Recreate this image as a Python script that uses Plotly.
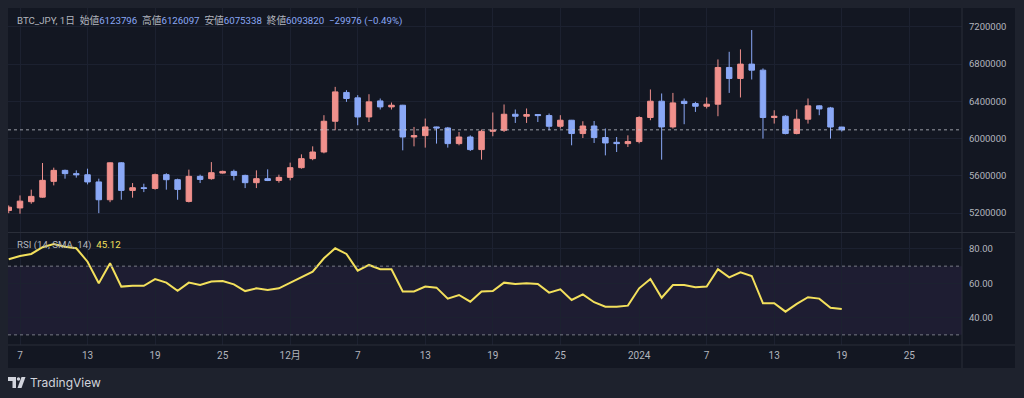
import plotly.graph_objects as go
import pandas as pd

# ---------------- data ----------------
start_date = "2023-11-06"
open_ = [5229000, 5256000, 5323000, 5372000, 5541000, 5659000, 5624000, 5612000, 5535000, 5344000,
         5740000, 5444000, 5473000, 5465000, 5613000, 5559000, 5326000, 5595000, 5570000, 5630000,
         5648000, 5605000, 5527000, 5570000, 5550000, 5584000, 5688000, 5785000, 5856000, 6186000,
         6495000, 6437000, 6232000, 6404000, 6340000, 6358000, 6017000, 6032000, 6125000, 6114000,
         5946000, 6017000, 5882000, 6078000, 6089000, 6261000, 6240000, 6258000, 6247000, 6132000,
         6197000, 6054000, 6135000, 6011000, 5960000, 5946000, 5968000, 6226000, 6401000, 6125000,
         6400000, 6376000, 6347000, 6369000, 6763000, 6645000, 6799000, 6734000, 6226000, 6240000,
         6054000, 6208000, 6351000, 6329000, 6123796]
high = [5283000, 5390000, 5452000, 5738000, 5688000, 5667000, 5659000, 5677000, 5570000, 5745000,
        5748000, 5523000, 5516000, 5624000, 5628000, 5570000, 5667000, 5613000, 5748000, 5656000,
        5667000, 5613000, 5659000, 5670000, 5613000, 5742000, 5831000, 5917000, 6251000, 6555000,
        6519000, 6466000, 6476000, 6430000, 6387000, 6362000, 6125000, 6215000, 6128000, 6125000,
        6071000, 6035000, 6097000, 6280000, 6366000, 6312000, 6323000, 6261000, 6269000, 6251000,
        6200000, 6186000, 6189000, 6108000, 6017000, 6035000, 6240000, 6527000, 6484000, 6490000,
        6430000, 6394000, 6441000, 6849000, 6931000, 6957000, 7165000, 6753000, 6304000, 6251000,
        6312000, 6430000, 6358000, 6340000, 6126097]
low = [5200000, 5194000, 5301000, 5366000, 5498000, 5570000, 5581000, 5509000, 5200000, 5318000,
       5344000, 5366000, 5426000, 5452000, 5452000, 5344000, 5315000, 5523000, 5559000, 5624000,
       5552000, 5469000, 5469000, 5544000, 5527000, 5552000, 5677000, 5768000, 5842000, 6089000,
       6394000, 6143000, 6178000, 6312000, 6312000, 5874000, 5917000, 5903000, 5946000, 5903000,
       5928000, 5867000, 5774000, 6025000, 6071000, 6168000, 6168000, 6178000, 6089000, 6108000,
       5928000, 6006000, 5953000, 5820000, 5856000, 5910000, 5949000, 6197000, 5774000, 6108000,
       6154000, 6286000, 6323000, 6240000, 6490000, 6441000, 6634000, 6000000, 6161000, 6046000,
       6046000, 6161000, 6251000, 6000000, 6075338]
close = [5264000, 5329000, 5380000, 5552000, 5659000, 5624000, 5612000, 5535000, 5344000, 5740000,
         5444000, 5473000, 5465000, 5613000, 5559000, 5455000, 5595000, 5562000, 5634000, 5648000,
         5605000, 5527000, 5570000, 5550000, 5584000, 5688000, 5785000, 5856000, 6186000, 6501000,
         6430000, 6232000, 6394000, 6340000, 6358000, 6017000, 6032000, 6125000, 6114000, 5946000,
         6017000, 5882000, 6078000, 6089000, 6261000, 6240000, 6258000, 6247000, 6132000, 6197000,
         6054000, 6135000, 6011000, 5953000, 5946000, 5968000, 6226000, 6401000, 6125000, 6383000,
         6376000, 6347000, 6369000, 6763000, 6645000, 6799000, 6734000, 6226000, 6240000, 6054000,
         6208000, 6351000, 6318000, 6124000, 6093820]
rsi = [74.0, 75.9, 77.1, 81.0, 82.9, 81.3, 80.4, 72.6, 60.0, 71.7,
       58.1, 58.6, 58.6, 62.5, 60.4, 55.7, 60.4, 59.0, 61.0, 61.4,
       59.4, 55.5, 57.1, 56.1, 57.1, 60.4, 63.9, 66.8, 74.6, 80.4,
       77.1, 67.4, 70.7, 68.2, 68.2, 55.3, 55.3, 58.1, 57.5, 51.1,
       53.2, 49.3, 55.3, 55.5, 60.4, 59.6, 60.0, 59.6, 54.6, 56.5,
       50.3, 53.6, 49.0, 46.4, 46.4, 47.0, 57.1, 62.5, 51.6, 59.0,
       59.0, 57.7, 58.1, 68.2, 63.5, 66.4, 64.3, 48.4, 48.4, 43.5,
       48.0, 51.9, 51.1, 45.8, 45.12]

x_tick_dates = ["2023-11-07", "2023-11-13", "2023-11-19", "2023-11-25", "2023-12-01",
                "2023-12-07", "2023-12-13", "2023-12-19", "2023-12-25", "2024-01-01",
                "2024-01-07", "2024-01-13", "2024-01-19", "2024-01-25"]
x_tick_text = ["7", "13", "19", "25", "12月", "7", "13", "19", "25", "2024", "7", "13", "19", "25"]
price_ticks = [5200000, 5600000, 6000000, 6400000, 6800000, 7200000]
rsi_ticks = [40, 60, 80]
rsi_upper, rsi_lower = 70, 30
last_price = 6093820

dates = pd.date_range(start_date, periods=len(close), freq="D")

# ---------------- style ----------------
W, H = 1024, 398
L, R, T, B = 8, 62, 8, 53
PW, PH = W - L - R, H - T - B
def px(x):
    return (x - L) / PW
def py(y):
    return (H - B - y) / PH

UP = "#f0908c"
DN = "#8aa8f6"
TXT = "#b2b5be"
GRID = "#1c2130"
SEP = "#2a2e39"
FONT = "Roboto, 'Noto Sans CJK JP', sans-serif"

fig = go.Figure()
fig.add_trace(go.Candlestick(
    x=dates, open=open_, high=high, low=low, close=close,
    increasing=dict(line=dict(color=UP, width=1), fillcolor=UP),
    decreasing=dict(line=dict(color=DN, width=1), fillcolor=DN),
    whiskerwidth=0, xaxis="x", yaxis="y", showlegend=False, hoverinfo="skip"))
fig.add_trace(go.Scatter(
    x=dates, y=rsi, mode="lines", line=dict(color="#f3e05c", width=2),
    xaxis="x", yaxis="y2", showlegend=False, hoverinfo="skip"))

shapes = [
    dict(type="rect", xref="paper", yref="paper", x0=px(8), x1=px(1015), y0=py(368), y1=py(8),
         fillcolor="#131722", line=dict(width=0), layer="below"),
    dict(type="rect", xref="paper", yref="y2", x0=0, x1=1, y0=rsi_lower, y1=rsi_upper,
         fillcolor="rgba(126,87,194,0.10)", line=dict(width=0), layer="below"),
    dict(type="line", xref="paper", yref="y2", x0=0, x1=1, y0=rsi_upper, y1=rsi_upper,
         line=dict(color="#787b86", width=1, dash="3px,3px")),
    dict(type="line", xref="paper", yref="y2", x0=0, x1=1, y0=rsi_lower, y1=rsi_lower,
         line=dict(color="#787b86", width=1, dash="3px,3px")),
    dict(type="line", xref="paper", yref="y", x0=0, x1=1, y0=last_price, y1=last_price,
         line=dict(color="rgba(200,202,210,0.75)", width=1, dash="dot")),
    dict(type="line", xref="paper", yref="paper", x0=px(962), x1=px(962), y0=py(368), y1=py(8),
         line=dict(color=SEP, width=1)),
    dict(type="line", xref="paper", yref="paper", x0=px(8), x1=px(1015), y0=py(232.5), y1=py(232.5),
         line=dict(color=SEP, width=1)),
    dict(type="line", xref="paper", yref="paper", x0=px(8), x1=px(1015), y0=py(345), y1=py(345),
         line=dict(color=SEP, width=1)),
]

# TradingView logo (decoration)
def path(pts):
    return "M " + " L ".join(f"{px(a)},{py(b)}" for a, b in pts) + " Z"
logo_col = "#d1d4dc"
shapes.append(dict(type="path", xref="paper", yref="paper",
                   path=path([(8, 377), (16, 377), (16, 388), (12.5, 388), (12.5, 381), (8, 381)]),
                   fillcolor=logo_col, line=dict(width=0)))
shapes.append(dict(type="circle", xref="paper", yref="paper",
                   x0=px(16.8), x1=px(20.2), y0=py(380.7), y1=py(377.3),
                   fillcolor=logo_col, line=dict(width=0)))
shapes.append(dict(type="path", xref="paper", yref="paper",
                   path=path([(21.5, 377), (25.5, 377), (21.5, 388), (17.5, 388)]),
                   fillcolor=logo_col, line=dict(width=0)))

nb = "\u00a0"
def val(s):
    return f'<span style="color:{DN}">{s}</span>'
header = ("BTC_JPY, 1日" + nb * 2 + "始値" + val("6123796") + nb * 2 + "高値" + val("6126097") + nb * 2 +
          "安値" + val("6075338") + nb * 2 + "終値" + val("6093820") + nb * 2 + val("−29976 (−0.49%)"))
rsi_header = "RSI (14, SMA, 14)" + nb * 2 + f'<span style="color:#f3e05c">{rsi[-1]:.2f}</span>'

annotations = [
    dict(xref="paper", yref="paper", x=px(15), y=py(20.5), xanchor="left", yanchor="middle",
         text=header, showarrow=False, font=dict(color=TXT, size=9.7, family=FONT)),
    dict(xref="paper", yref="paper", x=px(15), y=py(245), xanchor="left", yanchor="middle",
         text=rsi_header, showarrow=False, font=dict(color=TXT, size=9.7, family=FONT)),
    dict(xref="paper", yref="paper", x=px(28), y=py(382.5), xanchor="left", yanchor="middle",
         text="TradingView", showarrow=False, font=dict(color=logo_col, size=12, family="Inter, Roboto, sans-serif")),
]

fig.update_layout(
    width=W, height=H, margin=dict(l=L, r=R, t=T, b=B),
    paper_bgcolor="#1e222d", plot_bgcolor="rgba(0,0,0,0)",
    showlegend=False, shapes=shapes, annotations=annotations,
    xaxis=dict(domain=[0, 1], anchor="y2", type="date",
               range=["2023-11-05 22:25", "2024-01-29 16:20"],
               tickvals=x_tick_dates, ticktext=x_tick_text,
               showgrid=True, gridcolor=GRID, gridwidth=1, zeroline=False, showline=False,
               ticks="", tickfont=dict(color=TXT, size=10, family=FONT),
               ticklabelstandoff=3, rangeslider=dict(visible=False)),
    yaxis=dict(domain=[py(232.5), 1], anchor="x", side="right",
               range=[4992500, 7401000], tickvals=price_ticks,
               ticktext=[str(v) for v in price_ticks],
               showgrid=True, gridcolor=GRID, zeroline=False, showline=False,
               ticks="", tickfont=dict(color=TXT, size=9.5, family=FONT), ticklabelstandoff=6),
    yaxis2=dict(domain=[0, py(233)], anchor="x", side="right",
                range=[24.1, 89.3], tickvals=rsi_ticks,
                ticktext=[f"{v:.2f}" for v in rsi_ticks],
                showgrid=True, gridcolor=GRID, zeroline=False, showline=False,
                ticks="", tickfont=dict(color=TXT, size=9.5, family=FONT), ticklabelstandoff=6),
)

fig.write_html("out.html", config={"displayModeBar": False},
               post_script="document.body.style.margin='0';document.body.style.background='#1e222d';")
